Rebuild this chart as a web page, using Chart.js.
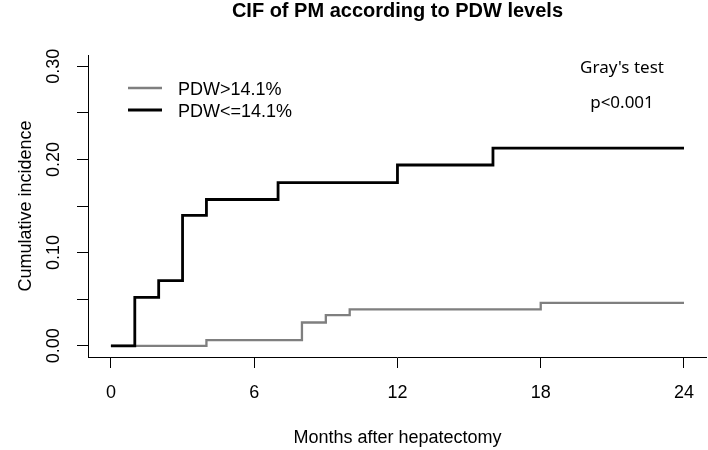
<!DOCTYPE html>
<html>
<head>
<meta charset="utf-8">
<script src="https://cdn.jsdelivr.net/npm/chart.js@4/dist/chart.umd.min.js"></script>
<style>
  body { margin: 0; background: #fff; }
  canvas { display: block; }
</style>
</head>
<body>
<canvas id="graficoCif" width="708" height="450"></canvas>
<script>
// datos (meses, incidencia acumulada)
var mesesAlto = [0, 4, 8, 9, 10, 18, 24];
var cifAlto = [0, 0.006, 0.025, 0.033, 0.039, 0.046, 0.046];
var mesesBajo = [0, 1, 2, 3, 4, 7, 12, 16, 24];
var cifBajo = [0, 0.052, 0.070, 0.140, 0.157, 0.175, 0.194, 0.212, 0.212];
var ticksX = [0, 6, 12, 18, 24];
var ticksY = [0, 0.05, 0.1, 0.15, 0.2, 0.25, 0.3];
var nombresSeries = ["PDW>14.1%", "PDW<=14.1%"];
var coloresSeries = ["#7f7f7f", "#000000"];

function armarPuntos(meses, valores) {
  return meses.map(function (m, i) {
    return { x: m, y: valores[i] };
  });
}

// titulo, leyenda y texto del test, dibujados encima
var textosExtra = {
  id: "textosExtra",
  afterDraw: function (chart) {
    var ctx = chart.ctx;
    var area = chart.chartArea;
    ctx.save();
    ctx.fillStyle = "#000";
    ctx.textBaseline = "middle";
    ctx.textAlign = "center";
    ctx.font = "bold 20px 'Liberation Sans'";
    ctx.fillText("CIF of PM according to PDW levels", (area.left + area.right) / 2, 11);

    var filas = [88, 110];
    nombresSeries.forEach(function (nombre, i) {
      ctx.strokeStyle = coloresSeries[i];
      ctx.lineWidth = i == 0 ? 2.3 : 2.8;
      ctx.beginPath();
      ctx.moveTo(128, filas[i]);
      ctx.lineTo(162, filas[i]);
      ctx.stroke();
      ctx.font = "18px 'Liberation Sans'";
      ctx.textAlign = "left";
      ctx.fillText(nombre, 178, filas[i] + 2);
    });
    ctx.font = "17px 'Noto Sans'";
    ctx.textAlign = "center";
    ctx.fillText("Gray's test", 622, 68);
    ctx.fillText("p<0.001", 622, 103);
    ctx.restore();
  },
};

const ctx = document.getElementById("graficoCif");

window.graficoCif = new Chart(ctx, {
  type: "line",
  data: {
    datasets: [
      {
        label: nombresSeries[0],
        data: armarPuntos(mesesAlto, cifAlto),
        borderColor: coloresSeries[0],
        borderWidth: 2.3,
        stepped: true,
        pointRadius: 0,
        fill: false,
        order: 1,
      },
      {
        label: nombresSeries[1],
        data: armarPuntos(mesesBajo, cifBajo),
        borderColor: coloresSeries[1],
        borderWidth: 2.8,
        stepped: true,
        pointRadius: 0,
        fill: false,
        order: 0,
      },
    ],
  },
  options: {
    responsive: false,
    animation: false,
    layout: { padding: { top: 55, left: 0, right: 0, bottom: 0 } },
    plugins: {
      legend: { display: false },
      tooltip: { enabled: false },
      title: { display: false },
    },
    scales: {
      x: {
        type: "linear",
        min: -0.96,
        max: 24.96,
        afterBuildTicks: function (scale) {
          scale.ticks = ticksX.map(function (v) {
            return { value: v };
          });
        },
        afterFit: function (scale) {
          scale.height = 93;
        },
        ticks: {
          color: "#000",
          font: { family: "'Liberation Sans'", size: 18 },
          maxRotation: 0,
          padding: 14,
        },
        grid: {
          drawOnChartArea: false,
          drawTicks: true,
          tickLength: 11,
          color: "#000",
          lineWidth: 1,
        },
        border: { display: true, color: "#000", width: 1 },
        title: {
          display: true,
          text: "Months after hepatectomy",
          color: "#000",
          font: { family: "'Liberation Sans'", size: 18 },
          padding: { top: 4, bottom: 1 },
        },
      },
      y: {
        type: "linear",
        min: -0.012,
        max: 0.312,
        afterBuildTicks: function (scale) {
          scale.ticks = ticksY.map(function (v) {
            return { value: v };
          });
        },
        afterFit: function (scale) {
          scale.width = 88;
        },
        ticks: {
          color: "#000",
          font: { family: "'Liberation Sans'", size: 18 },
          minRotation: 90,
          maxRotation: 90,
          crossAlign: "center",
          padding: 5,
          callback: function (valor, indice) {
            return indice % 2 == 0 ? valor.toFixed(2) : "";
          },
        },
        grid: {
          drawOnChartArea: false,
          drawTicks: true,
          tickLength: 11,
          color: "#000",
          lineWidth: 1,
        },
        border: { display: true, color: "#000", width: 1 },
        title: {
          display: true,
          text: "Cumulative incidence",
          color: "#000",
          font: { family: "'Liberation Sans'", size: 18 },
          padding: { top: 15, bottom: 4 },
        },
      },
    },
  },
  plugins: [textosExtra],
});
</script>
</body>
</html>
